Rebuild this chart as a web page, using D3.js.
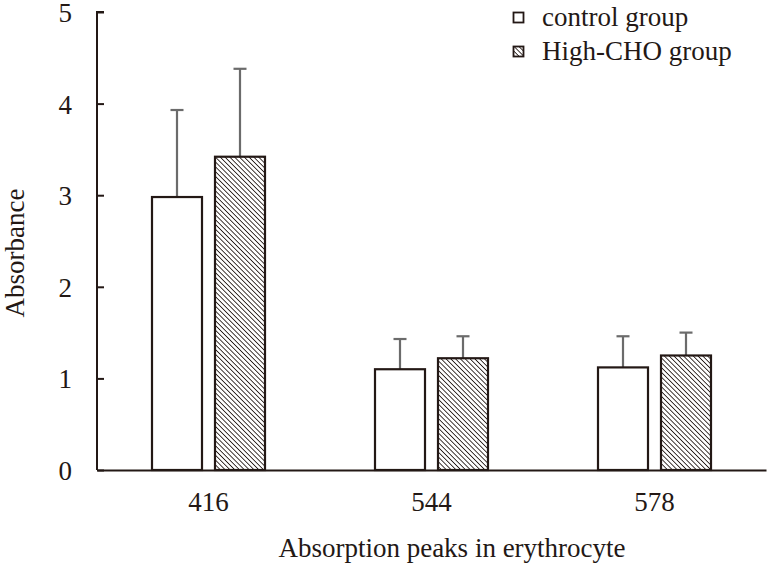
<!DOCTYPE html>
<html>
<head>
<meta charset="utf-8">
<script src="https://cdn.jsdelivr.net/npm/d3@7"></script>
<style>
  body { margin: 0; background: #fff; }
  svg text { font-family: "Liberation Serif", "Times New Roman", serif; fill: #231815; }
</style>
</head>
<body>
<div id="chart"></div>
<script>
// === chart data ===
const categories = ["416", "544", "578"];
const seriesNames = ["control group", "High-CHO group"];
const controlValues = [2.98, 1.10, 1.12];
const controlErrors = [0.95, 0.33, 0.34];
const highValues = [3.42, 1.22, 1.25];
const highErrors = [0.96, 0.24, 0.25];
const yTicks = [0, 1, 2, 3, 4, 5];

(() => {
  const width = 770, height = 564;
  const margin = { top: 12, right: 4, bottom: 94, left: 97 };
  const ink = "#231815";
  const fontSize = "27px";

  const svg = d3.select("#chart").append("svg")
    .attr("width", width).attr("height", height);

  // hatch pattern for the High-CHO bars ("\" stripes)
  const defs = svg.append("defs");
  defs.append("pattern")
    .attr("id", "hatch")
    .attr("patternUnits", "userSpaceOnUse")
    .attr("width", 3.4).attr("height", 3.4)
    .attr("patternTransform", "rotate(-45)")
    .call(p => {
      p.append("rect").attr("width", 3.4).attr("height", 3.4).attr("fill", "#fff");
      p.append("line").attr("x1", 0).attr("y1", 0).attr("x2", 0).attr("y2", 3.4)
        .attr("stroke", ink).attr("stroke-width", 1.7);
    });

  const x0 = d3.scaleBand().domain(categories)
    .range([margin.left, width - margin.right]).padding(0);
  const x1 = d3.scaleBand().domain(seriesNames)
    .range([-56.5, 56.5]).paddingInner(13 / 63).paddingOuter(0);
  const y = d3.scaleLinear().domain([0, 5]).range([height - margin.bottom, margin.top]);

  const series = [
    { name: seriesNames[0], values: controlValues, errors: controlErrors, fill: "#fff" },
    { name: seriesNames[1], values: highValues, errors: highErrors, fill: "url(#hatch)" },
  ];

  const rows = [];
  series.forEach(s => categories.forEach((c, i) => {
    rows.push({ cat: c, name: s.name, v: s.values[i], e: s.errors[i], fill: s.fill });
  }));

  // error bars (upper only) drawn under the bars
  const eb = svg.append("g").attr("stroke", "#6b6b6b").attr("stroke-width", 2.2);
  rows.forEach(d => {
    const cx = x0(d.cat) + x0.bandwidth() / 2 + x1(d.name) + x1.bandwidth() / 2;
    eb.append("line").attr("x1", cx).attr("x2", cx)
      .attr("y1", y(d.v)).attr("y2", y(d.v + d.e));
    eb.append("line").attr("x1", cx - 6.5).attr("x2", cx + 6.5)
      .attr("y1", y(d.v + d.e)).attr("y2", y(d.v + d.e));
  });

  svg.append("g").selectAll("rect").data(rows).join("rect")
    .attr("x", d => x0(d.cat) + x0.bandwidth() / 2 + x1(d.name))
    .attr("y", d => y(d.v))
    .attr("width", x1.bandwidth())
    .attr("height", d => y(0) - y(d.v))
    .attr("fill", d => d.fill)
    .attr("stroke", ink).attr("stroke-width", 2.2);

  // y axis, ticks pointing inward
  const yAxis = svg.append("g").attr("transform", `translate(${margin.left},0)`)
    .call(d3.axisRight(y).tickValues(yTicks).tickSize(7).tickFormat(d3.format("d")));
  yAxis.select(".domain").attr("d", `M7,${y(5)}H0V${y(0)}`).attr("stroke", ink).attr("stroke-width", 2);
  yAxis.selectAll(".tick line").attr("stroke", ink).attr("stroke-width", 2);
  yAxis.selectAll(".tick text")
    .attr("x", -25).attr("text-anchor", "end").attr("dy", "0.35em")
    .style("font-size", fontSize);

  // x axis, no ticks
  const xAxis = svg.append("g").attr("transform", `translate(0,${y(0)})`)
    .call(d3.axisBottom(x0).tickSize(0).tickSizeOuter(0));
  xAxis.select(".domain").attr("stroke", ink).attr("stroke-width", 2);
  xAxis.selectAll(".tick text").attr("dy", 0).attr("y", 41).style("font-size", fontSize);

  svg.append("text")
    .attr("x", 452).attr("y", 557)
    .attr("text-anchor", "middle").style("font-size", fontSize)
    .text("Absorption peaks in erythrocyte");

  svg.append("text")
    .attr("transform", `translate(24,${(y(0) + y(5)) / 2 + 12}) rotate(-90)`)
    .attr("text-anchor", "middle").style("font-size", fontSize)
    .text("Absorbance");

  // legend
  const legend = svg.append("g").attr("transform", "translate(513,12)");
  series.forEach((s, i) => {
    const g = legend.append("g").attr("transform", `translate(0,${i * 34})`);
    g.append("rect").attr("x", 0.5).attr("y", 0.5).attr("width", 10).attr("height", 10)
      .attr("fill", s.fill).attr("stroke", ink).attr("stroke-width", 1.8);
    g.append("text").attr("x", 29).attr("y", 14).style("font-size", fontSize).text(s.name);
  });
})();
</script>
</body>
</html>
